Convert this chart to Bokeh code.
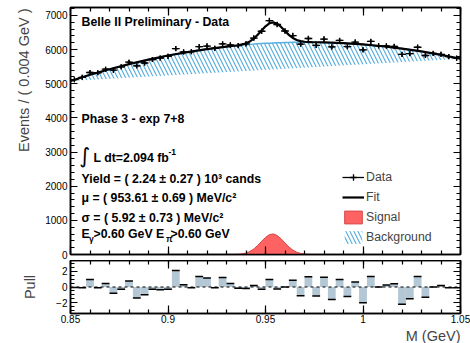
import numpy as np
from bokeh.plotting import figure
from bokeh.layouts import column
from bokeh.models import (Range1d, LinearAxis, FixedTicker, ColumnDataSource, Label,
                          Span, Title, Legend, LegendItem, CustomJSTickFormatter)
from bokeh.embed import file_html
from bokeh.resources import INLINE

FONT = "Liberation Sans"
TXT = "12.3px"
BKG = "#5aaee0"
SIG = "#ff6262"

# histogram binning of M (GeV)
mass_lo, mass_hi, bin_width = 0.85, 1.05, 0.004

# events per 0.004 GeV bin
counts = [5117, 5186, 5328, 5320, 5425, 5396, 5493, 5629, 5523, 5606,
          5708, 5752, 5801, 6027, 5930, 5937, 6084, 6102, 6035, 6164,
          6132, 6115, 6167, 6336, 6535, 6846, 6732, 6542, 6408, 6158,
          6322, 6121, 6307, 6075, 6267, 6086, 6217, 5992, 6236, 6108,
          6104, 6088, 5857, 5880, 6066, 5825, 5886, 5860, 5793, 5746]

# (data - fit) / error per bin
pulls = [-0.05, -0.1, 0.94, -0.1, 0.45, -0.8, -0.3, 0.75, -1.4, -1.0,
         -0.3, -0.35, -0.3, 2.1, 0.3, -0.1, 1.35, 1.15, -0.1, 1.2,
         0.45, -0.15, -0.2, 0.2, -0.3, 0.95, -0.25, 0.0, 0.85, -1.1,
         1.3, -1.15, 1.25, -1.6, 0.95, -1.2, 0.65, -2.0, 1.35, 0.0,
         0.25, 0.4, -2.2, -1.5, 1.35, -1.3, 0.0, 0.2, -0.1, -0.1]

# fitted components sampled along M (GeV)
curve_m = [0.85, 0.86, 0.87, 0.88, 0.89, 0.90, 0.91, 0.92, 0.93,
           0.932, 0.934, 0.936, 0.938, 0.940, 0.942, 0.944, 0.946, 0.948, 0.950,
           0.952, 0.954, 0.956, 0.958, 0.960, 0.962, 0.964, 0.966, 0.968, 0.970,
           0.972, 0.974, 0.976,
           0.98, 0.99, 1.00, 1.01, 1.02, 1.03, 1.04, 1.05]
bkg_curve = [5080, 5260, 5424, 5573, 5706, 5824, 5926, 6013, 6084,
             6096, 6108, 6119, 6130, 6140, 6149, 6158, 6166, 6173, 6180,
             6186, 6192, 6197, 6201, 6205, 6208, 6210, 6212, 6213, 6214,
             6214, 6213, 6212,
             6208, 6186, 6149, 6096, 6028, 5944, 5845, 5730]
sig_curve = [0, 0, 0, 0, 0, 0, 0, 0, 0,
             1, 2.5, 7, 19, 43, 88, 162, 264, 385, 501,
             582, 603, 557, 459, 337, 221, 130, 68, 32, 13,
             5, 1.6, 0.5,
             0, 0, 0, 0, 0, 0, 0, 0]

major_m = [0.85, 0.9, 0.95, 1.0, 1.05]
minor_m = [round(0.85 + 0.01 * i, 2) for i in range(21)]

centers = mass_lo + bin_width * (np.arange(len(counts)) + 0.5)
cnt = np.array(counts, dtype=float)
err = np.sqrt(cnt)
fit_curve = np.array(bkg_curve, dtype=float) + np.array(sig_curve, dtype=float)

Y_MAX = 7230


def make_axis(major, minor, labels, tick_in, minor_in, overrides=None):
    ax = LinearAxis(ticker=FixedTicker(ticks=major, minor_ticks=minor))
    ax.axis_line_width = 1.5
    ax.axis_line_color = "black"
    ax.major_tick_in = tick_in
    ax.major_tick_out = 0
    ax.minor_tick_in = minor_in
    ax.minor_tick_out = 0
    ax.major_tick_line_width = 1.2
    ax.minor_tick_line_width = 1.2
    ax.major_label_text_font = FONT
    ax.major_label_text_color = "black"
    if labels:
        ax.major_label_text_font_size = "10px"
        ax.major_label_standoff = 3
    else:
        # mirrored frame side: ticks only
        ax.formatter = CustomJSTickFormatter(code="return ''")
        ax.major_label_text_font_size = "0px"
        ax.major_label_standoff = 0
    if overrides:
        ax.major_label_overrides = overrides
    return ax


# ---------------- main mass spectrum ----------------
p = figure(width=470, height=260, x_range=Range1d(mass_lo, mass_hi),
           y_range=Range1d(0, Y_MAX), output_backend="svg", toolbar_location=None,
           x_axis_type=None, y_axis_type=None,
           min_border_left=70, min_border_right=10, min_border_top=7, min_border_bottom=6)
p.grid.visible = False
p.outline_line_color = "black"
p.outline_line_width = 1.5

y_major = list(range(0, 7001, 1000))
y_minor = list(range(0, 7201, 200))
p.add_layout(make_axis(major_m, minor_m, False, 8, 4), "below")
p.add_layout(make_axis(major_m, minor_m, False, 8, 4), "above")
p.add_layout(make_axis(y_major, y_minor, True, 7, 4), "left")
p.add_layout(make_axis(y_major, y_minor, False, 7, 4), "right")
p.add_layout(Title(text="Events / ( 0.004 GeV )", align="right", offset=1, standoff=22,
                   text_font=FONT, text_font_size="14.5px", text_font_style="normal"), "left")

r_bkg = p.patch(curve_m, bkg_curve, fill_color=None, line_color=None,
                hatch_pattern="\\", hatch_color=BKG, hatch_scale=8, hatch_weight=1.2)
p.line(curve_m, bkg_curve, line_color=BKG, line_width=1.5)
r_sig = p.patch(curve_m, sig_curve, fill_color=SIG, line_color="#d44646", line_width=1)
r_fit = p.line(curve_m, fit_curve, line_color="black", line_width=2.2)

src = ColumnDataSource(dict(x=centers, xl=centers - bin_width / 2, xr=centers + bin_width / 2,
                            y=cnt, lo=cnt - err, hi=cnt + err))
r_dh = p.segment("xl", "y", "xr", "y", source=src, line_color="black", line_width=1.3)
p.segment("x", "lo", "x", "hi", source=src, line_color="black", line_width=1.3)
r_dm = p.scatter("x", "y", source=src, marker="cross", size=5,
                 line_color="black", line_width=1.3)

legend = Legend(items=[LegendItem(label="Data", renderers=[r_dh, r_dm]),
                       LegendItem(label="Fit", renderers=[r_fit]),
                       LegendItem(label="Signal", renderers=[r_sig]),
                       LegendItem(label="Background", renderers=[r_bkg])],
                location=(272, 9), orientation="vertical",
                glyph_width=22, glyph_height=16, label_height=16, spacing=4,
                label_standoff=2, padding=0, margin=0, border_line_color=None,
                background_fill_alpha=0, label_text_font=FONT, label_text_font_size=TXT)
p.add_layout(legend)


def at(px, py):
    """Canvas pixel position to data coordinates of the mass spectrum."""
    return (mass_lo + (px - 70) / 390 * (mass_hi - mass_lo), Y_MAX * (254 - py) / 247)


def note(text, px, py, size=TXT, bold=True, font=FONT):
    x, y = at(px, py)
    p.add_layout(Label(x=x, y=y, text=text, text_font=font, text_font_size=size,
                       text_font_style="bold" if bold else "normal",
                       text_baseline="middle", text_align="left", text_color="black"))


note("Belle II Preliminary - Data", 81, 21)
note("Phase 3 - exp 7+8", 81, 118)
note("\u222b", 79, 155, size="21px", bold=False, font="DejaVu Sans")
note("L dt=2.094 fb", 93, 157)
note("-1", 168, 151, size="8.6px")
note("Yield = ( 2.24 \u00b1 0.27 ) 10\u00b3 cands", 81, 178)
note("\u03bc = ( 953.61 \u00b1 0.69 ) MeV/c\u00b2", 81, 197)
note("\u03c3 = ( 5.92 \u00b1 0.73 ) MeV/c\u00b2", 81, 217)
note("E", 81, 233)
note("\u03b3", 88.5, 238, size="8.6px")
note(">0.60 GeV E", 93, 233)
note("\u03c0", 165.5, 238, size="8.6px")
note(">0.60 GeV", 170, 233)

# ---------------- pull panel ----------------
pf = figure(width=470, height=83, x_range=p.x_range, y_range=Range1d(-3.375, 3.375),
            output_backend="svg", toolbar_location=None,
            x_axis_type=None, y_axis_type=None,
            min_border_left=70, min_border_right=10, min_border_top=0, min_border_bottom=29)
pf.grid.visible = False
pf.outline_line_color = "black"
pf.outline_line_width = 1.5

pull_src = ColumnDataSource(dict(x=centers, xl=centers - bin_width / 2,
                                 xr=centers + bin_width / 2, pull=pulls))
pf.vbar(x="x", top="pull", bottom=0, width=bin_width, source=pull_src,
        fill_color="#b4c7d4", line_color=None)
pf.segment("xl", "pull", "xr", "pull", source=pull_src, line_color="black", line_width=1.5)
pf.add_layout(Span(location=0, dimension="width", line_color="black",
                   line_width=1, line_dash="3 3"))

m_labels = {0.85: "0.85", 0.9: "0.9", 0.95: "0.95", 1.0: "1", 1.05: "1.05"}
pull_major = [-2, 0, 2]
pull_minor = [-3, -2.5, -2, -1.5, -1, -0.5, 0, 0.5, 1, 1.5, 2, 2.5, 3]
x_ax = make_axis(major_m, minor_m, True, 8, 4, m_labels)
x_ax.major_label_standoff = 1
pf.add_layout(x_ax, "below")
pf.add_layout(make_axis(major_m, minor_m, False, 8, 4), "above")
pf.add_layout(make_axis(pull_major, pull_minor, True, 7, 4, {-2: "\u22122"}), "left")
pf.add_layout(make_axis(pull_major, pull_minor, False, 7, 4), "right")
pf.add_layout(Title(text="Pull", align="center", standoff=32,
                    text_font=FONT, text_font_size="14.5px", text_font_style="normal"), "left")
pf.add_layout(Title(text="M (GeV)", align="right", standoff=0,
                    text_font=FONT, text_font_size="14.5px", text_font_style="normal"), "below")

layout = column(p, pf, spacing=0)
open("out.html", "w").write(file_html(layout, INLINE))
